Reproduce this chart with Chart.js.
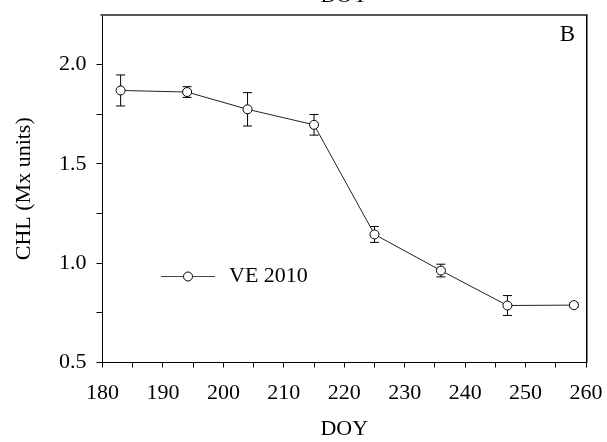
<!DOCTYPE html>
<html>
<head>
<meta charset="utf-8">
<script src="https://cdn.jsdelivr.net/npm/chart.js@4/dist/chart.umd.min.js"></script>
<style>
html,body{margin:0;padding:0;background:#fff;}
#wrap{width:607px;height:442px;position:relative;}
</style>
</head>
<body>
<div id="wrap"><canvas id="c" width="607" height="442"></canvas></div>
<script>
const doy = [183, 194, 204, 215, 225, 236, 247, 258];
const chl = [1.870, 1.862, 1.775, 1.697, 1.145, 0.963, 0.787, 0.789];
const chlErr = [0.078, 0.027, 0.084, 0.052, 0.040, 0.032, 0.050, 0.010];
const seriesLabel = 'VE 2010';
const xTitle = 'DOY';
const yTitle = 'CHL (Mx units)';
const panelLabel = 'B';

const FONT = "'Liberation Serif', 'Times New Roman', serif";

const errorBars = {
  id: 'errorBars',
  beforeDatasetsDraw(chart) {
    const ctx = chart.ctx, xs = chart.scales.x, ys = chart.scales.y;
    ctx.save();
    ctx.strokeStyle = '#000';
    ctx.lineWidth = 1;
    doy.forEach((d, i) => {
      const x = xs.getPixelForValue(d);
      const yt = ys.getPixelForValue(chl[i] + chlErr[i]);
      const yb = ys.getPixelForValue(chl[i] - chlErr[i]);
      ctx.beginPath();
      ctx.moveTo(x, yt); ctx.lineTo(x, yb);
      ctx.moveTo(x - 4.5, yt); ctx.lineTo(x + 4.5, yt);
      ctx.moveTo(x - 4.5, yb); ctx.lineTo(x + 4.5, yb);
      ctx.stroke();
    });
    ctx.restore();
  }
};

const decor = {
  id: 'decor',
  afterDraw(chart) {
    const ctx = chart.ctx, a = chart.chartArea;
    ctx.save();
    // frame: top and right edges of the plot box
    ctx.beginPath();
    ctx.strokeStyle = '#555';
    ctx.lineWidth = 2;
    ctx.moveTo(a.left - 2, a.top); ctx.lineTo(a.right + 1.5, a.top);
    ctx.stroke();
    ctx.beginPath();
    ctx.strokeStyle = '#000';
    ctx.lineWidth = 1.5;
    ctx.moveTo(a.right + 0.75, a.top); ctx.lineTo(a.right + 0.75, a.bottom + 0.5);
    ctx.stroke();
    // panel label
    ctx.fillStyle = '#000';
    ctx.font = '23px ' + FONT;
    ctx.textAlign = 'right';
    ctx.textBaseline = 'alphabetic';
    ctx.fillText(panelLabel, a.right - 11, a.top + 26);
    // top (cut off) axis title
    ctx.font = '22px ' + FONT;
    ctx.textAlign = 'center';
    ctx.fillText(xTitle, (a.left + a.right) / 2, 1.5);
    // legend
    const ly = 276.5;
    ctx.beginPath();
    ctx.strokeStyle = '#444';
    ctx.lineWidth = 1;
    ctx.moveTo(161, ly); ctx.lineTo(215, ly);
    ctx.stroke();
    ctx.beginPath();
    ctx.fillStyle = '#fff';
    ctx.strokeStyle = '#000';
    ctx.arc(188, ly, 4.5, 0, Math.PI * 2);
    ctx.fill(); ctx.stroke();
    ctx.fillStyle = '#000';
    ctx.textAlign = 'left';
    ctx.textBaseline = 'middle';
    ctx.fillText(seriesLabel, 229, ly);
    ctx.restore();
  }
};

new Chart(document.getElementById('c'), {
  type: 'line',
  data: {
    datasets: [{
      label: seriesLabel,
      data: doy.map((d, i) => ({x: d, y: chl[i]})),
      borderColor: '#222',
      borderWidth: 1,
      backgroundColor: '#fff',
      pointBackgroundColor: '#fff',
      pointBorderColor: '#000',
      pointBorderWidth: 1,
      pointRadius: 4.5,
      tension: 0,
      fill: false
    }]
  },
  options: {
    responsive: false,
    animation: false,
    devicePixelRatio: 1,
    layout: { padding: { top: 15, right: 21, bottom: 0, left: 0 } },
    plugins: { legend: { display: false }, tooltip: { enabled: false } },
    scales: {
      x: {
        type: 'linear',
        min: 180, max: 260,
        afterFit(s) { s.height = 79.5; s.paddingLeft = 0; s.paddingRight = 0; },
        border: { display: true, color: '#000', width: 1 },
        grid: { display: true, drawOnChartArea: false, drawTicks: true, tickLength: 5, color: '#000' },
        ticks: {
          stepSize: 5, autoSkip: false, maxRotation: 0, padding: 13,
          color: '#000', font: { family: FONT, size: 22 },
          callback: v => (v % 10 === 0 ? String(v) : '')
        },
        title: { display: true, text: xTitle, color: '#000', font: { family: FONT, size: 22 }, padding: { top: -1, bottom: 0 } }
      },
      y: {
        min: 0.5, max: 2.25,
        afterFit(s) { s.width = 102.5; s.paddingTop = 0; s.paddingBottom = 0; },
        border: { display: true, color: '#000', width: 1 },
        grid: {
          display: true, drawOnChartArea: false, drawTicks: true, tickLength: 6,
          color: c => (c.tick && c.tick.value > 2.2 ? 'rgba(0,0,0,0)' : '#000')
        },
        ticks: {
          stepSize: 0.25, autoSkip: false, padding: 10,
          color: '#000', font: { family: FONT, size: 22 },
          callback: v => (Math.abs(v * 2 - Math.round(v * 2)) < 1e-6 ? v.toFixed(1) : '')
        },
        title: { display: true, text: yTitle, color: '#000', font: { family: FONT, size: 22 }, padding: { top: 11, bottom: 0 } }
      }
    }
  },
  plugins: [errorBars, decor]
});
</script>
</body>
</html>
